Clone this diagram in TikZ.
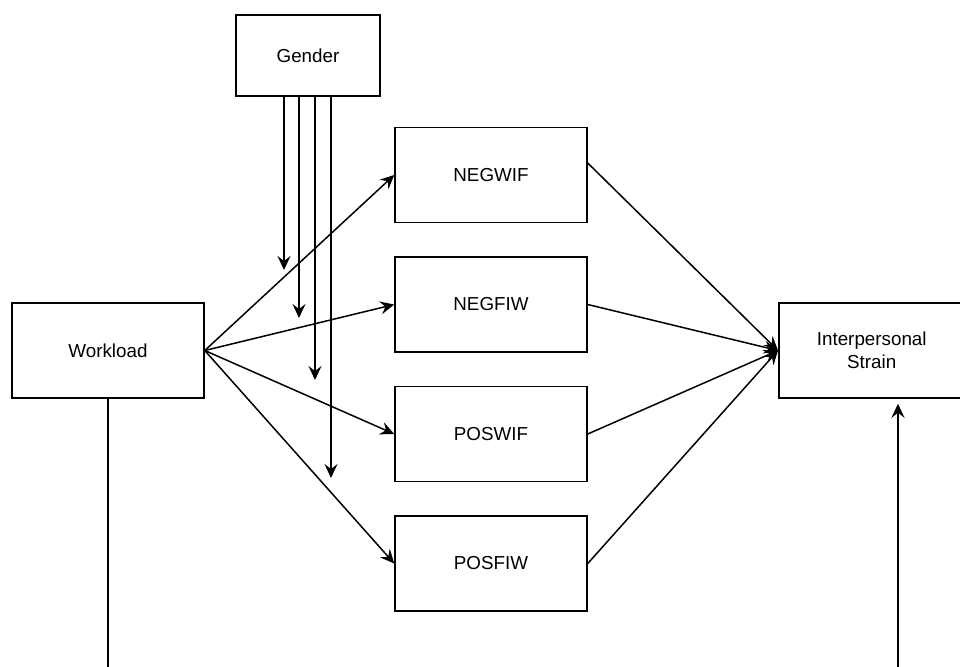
\documentclass[tikz,border=0pt]{standalone}
\usepackage{fontspec}
\setmainfont{Liberation Sans}
\usetikzlibrary{positioning,arrows.meta}
\tikzset{
  box/.style={draw, rectangle, minimum width=96pt, minimum height=47.5pt, align=center, inner sep=0pt},
  link/.style={-{Stealth[length=7pt,width=6.5pt,inset=2.5pt]}, line width=0.75pt}}

\begin{document}
\begin{tikzpicture}[x=0.5pt, y=-0.5pt, line width=0.75pt, font=\fontsize{9.4}{11.5}\selectfont]
        \useasboundingbox (0,0) rectangle (960,666);
        \clip (0,0) rectangle (960,666);

        \node[box](work) at (108,350.5) {Workload};
        \node[box](negwif) at (491,175) {NEGWIF};
        \node[box, below=16.5pt of negwif](negfiw) {NEGFIW};
        \node[box, below=16.5pt of negfiw](poswif) {POSWIF};
        \node[box, below=16.5pt of poswif](posfiw) {POSFIW};
        \node[box, minimum width=72pt, minimum height=40.5pt](gender) at (308,55.5) {Gender};
        \node[box, minimum width=93pt, anchor=west](strain) at (778,350.5) {Interpersonal\\Strain};

        \coordinate (wbot) at (108,670);
        \coordinate (sbot) at (898,670);

        \foreach \m in {negwif,negfiw,poswif,posfiw} {
          \draw[link] (work.east) -- (\m.west);
        }

        \draw[link] ([yshift=6pt]negwif.east) -- (strain.west);
        \foreach \m in {negfiw,poswif,posfiw} {
          \draw[link] (\m.east) -- (strain.west);
        }

        \foreach \x/\y/\w [count=\i] in {284/270/1pt, 299/318/0.75pt, 315/380/1pt, 331/478/0.75pt} {
          \coordinate (g\i) at (\x,\y);
          \draw[link, line width=\w] (gender.south -| g\i) -- (g\i);
        }

        \draw (work.south) -- (wbot);
        \draw[link, shorten >=2.5pt] (sbot) -- (sbot |- strain.south);
      \end{tikzpicture}
\end{document}
